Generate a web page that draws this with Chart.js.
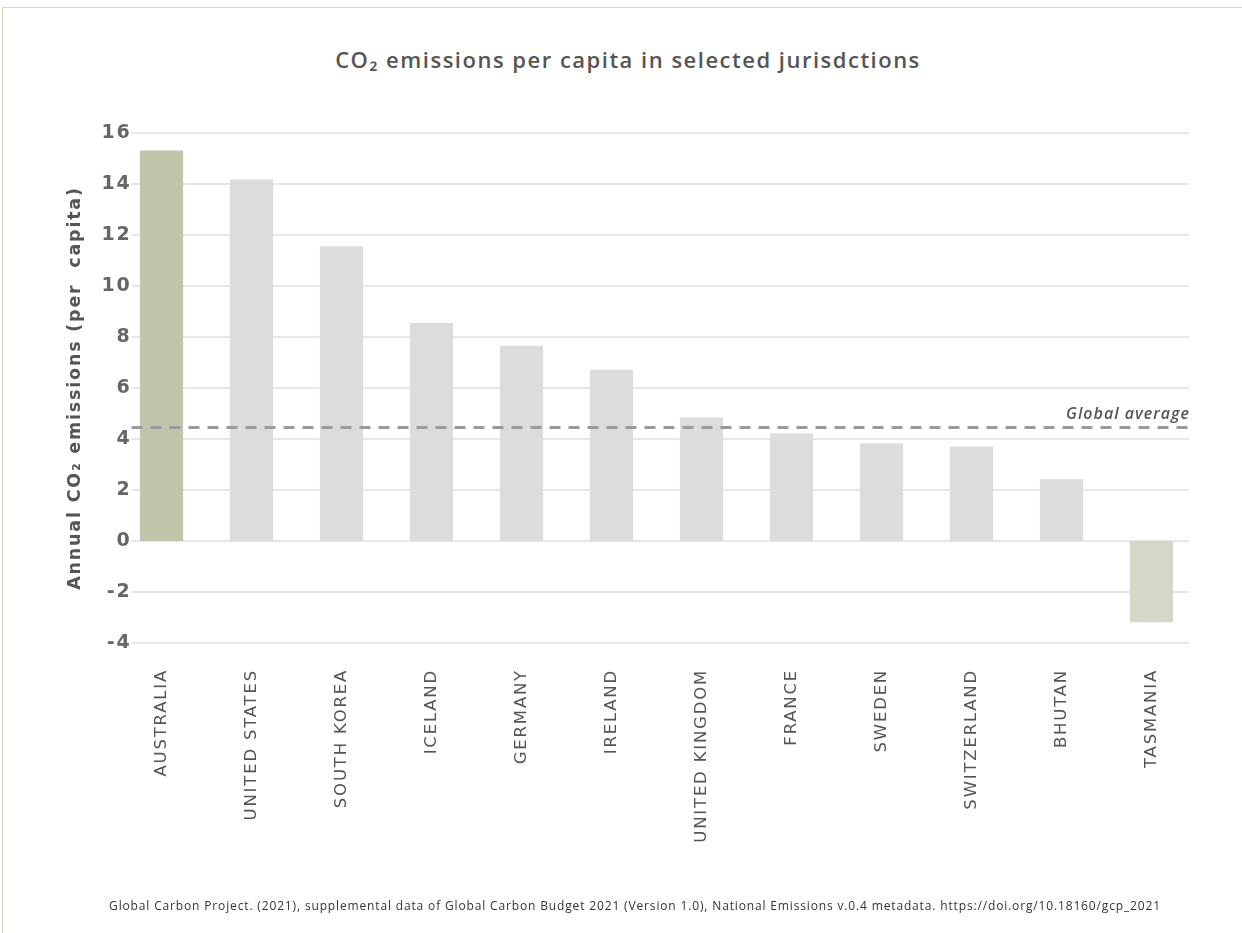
<!DOCTYPE html>
<html>
<head>
<meta charset="utf-8">
<script src="https://cdn.jsdelivr.net/npm/chart.js@4.4.1/dist/chart.umd.min.js"></script>
<style>
  html, body { margin: 0; padding: 0; background: #fff; }
  body { width: 1242px; height: 933px; position: relative; overflow: hidden; font-family: "Open Sans", sans-serif; }
  #frame { position: absolute; left: 2px; top: 7px; width: 1260px; height: 960px; border-left: 1px solid #d6d6c2; border-top: 1px solid #d6d6c2; }
  #title { position: absolute; top: 44px; left: 0; width: 1256px; text-align: center; font-size: 22px; font-weight: 600; letter-spacing: 1.5px; color: #555; }
  #source { position: absolute; top: 897px; left: 0; width: 1270px; text-align: center; font-size: 12px; letter-spacing: 0.85px; color: #333; }
  #wrap { position: absolute; left: 0; top: 0; width: 1242px; height: 933px; }
</style>
</head>
<body>
<div id="frame"></div>
<div id="title">CO₂ emissions per capita in selected jurisdctions</div>
<div id="wrap"><canvas id="chart"></canvas></div>
<div id="source">Global Carbon Project. (2021), supplemental data of Global Carbon Budget 2021 (Version 1.0), National Emissions v.0.4 metadata. https://doi.org/10.18160/gcp_2021</div>
<script>
// Data
const countries = ["AUSTRALIA", "UNITED STATES", "SOUTH KOREA", "ICELAND", "GERMANY", "IRELAND",
  "UNITED KINGDOM", "FRANCE", "SWEDEN", "SWITZERLAND", "BHUTAN", "TASMANIA"];
const emissions = [15.31, 14.18, 11.56, 8.55, 7.66, 6.72, 4.84, 4.22, 3.83, 3.71, 2.42, -3.19];
const barColors = ["#c2c5aa", "#dbdcdd", "#dbdcdd", "#dbdcdd", "#dbdcdd", "#dbdcdd",
  "#dbdcdd", "#dbdcdd", "#dbdcdd", "#dbdcdd", "#dbdcdd", "#d6d7c7"];
const globalAverage = 4.45;
const yTicks = [-4, -2, 0, 2, 4, 6, 8, 10, 12, 14, 16];

// wide lettering for the axis texts (reset before the bars are drawn)
const wideText = {
  id: "wideText",
  beforeDraw(chart) {
    chart.ctx.letterSpacing = "1.8px";
  },
};

// grid lines reach a little past the first and last bars, like the original
const insetGrid = {
  id: "insetGrid",
  beforeDatasetsDraw(chart) {
    const { ctx, chartArea } = chart;
    ctx.letterSpacing = "0px";
    const yScale = chart.scales.y;
    ctx.save();
    ctx.strokeStyle = "#e7e7e7";
    ctx.lineWidth = 2;
    yScale.ticks.forEach((t) => {
      const y = yScale.getPixelForValue(t.value);
      ctx.beginPath();
      ctx.moveTo(chartArea.left - 30, y);
      ctx.lineTo(chartArea.right + 37.5, y);
      ctx.stroke();
    });
    ctx.restore();
  },
};

// dashed global average line and its label
const averageLine = {
  id: "averageLine",
  afterDatasetsDraw(chart) {
    const { ctx, chartArea } = chart;
    const y = chart.scales.y.getPixelForValue(globalAverage);
    ctx.save();
    ctx.strokeStyle = "#999a9b";
    ctx.lineWidth = 3;
    ctx.setLineDash([11, 8]);
    ctx.beginPath();
    ctx.moveTo(chartArea.left - 30, y);
    ctx.lineTo(chartArea.right + 37.5, y);
    ctx.stroke();
    ctx.setLineDash([]);
    ctx.fillStyle = "#555";
    ctx.font = "italic 600 16px 'Open Sans'";
    ctx.letterSpacing = "1px";
    ctx.textAlign = "right";
    ctx.textBaseline = "alphabetic";
    ctx.fillText("Global average", chartArea.right + 38.5, y - 9);
    ctx.restore();
  },
};

const ctx = document.getElementById("chart").getContext("2d");
new Chart(ctx, {
  type: "bar",
  data: {
    labels: countries,
    datasets: [
      {
        label: "Emissions",
        data: emissions,
        backgroundColor: barColors,
        borderWidth: 0,
        barPercentage: 0.48,
        categoryPercentage: 1,
        clip: false,
      },
    ],
  },
  options: {
    responsive: true,
    maintainAspectRatio: false,
    animation: false,
    layout: { padding: { left: 65, right: 90.5, top: 133, bottom: 2 } },
    plugins: {
      legend: { display: false },
      tooltip: { enabled: false },
    },
    scales: {
      x: {
        offset: false,
        grid: { display: false },
        border: { display: false },
        ticks: {
          color: "#555",
          font: { family: "DejaVu Sans", size: 16.5 },
          maxRotation: 90,
          minRotation: 90,
          padding: 18,
          autoSkip: false,
        },
        afterFit(scale) { scale.height = 288; },
      },
      y: {
        min: -4,
        max: 16,
        afterBuildTicks(scale) { scale.ticks = yTicks.map((v) => ({ value: v })); },
        grid: { display: false },
        border: { display: false },
        ticks: {
          color: "#666",
          font: { family: "DejaVu Sans", size: 19, weight: "bold" },
          padding: 22,
        },
        title: {
          display: true,
          text: "Annual CO₂ emissions (per  capita)",
          color: "#555",
          font: { family: "DejaVu Sans", size: 17.5, weight: "bold" },
          padding: { top: 0, bottom: 0 },
        },
        afterFit(scale) { scale.width = 96.5; },
      },
    },
  },
  plugins: [wideText, insetGrid, averageLine],
});
</script>
</body>
</html>
